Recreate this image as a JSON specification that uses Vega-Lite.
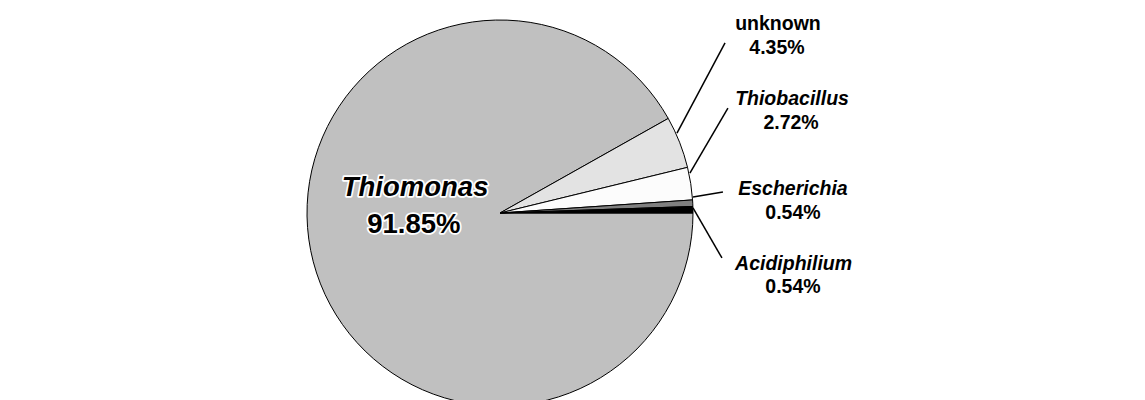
{
  "$schema": "https://vega.github.io/schema/vega-lite/v6.json",
  "width": 1145,
  "height": 400,
  "padding": 0,
  "autosize": {"type": "none"},
  "background": "white",
  "config": {"view": {"stroke": null}},
  "datasets": {
    "slices": [
      {"genus": "Thiomonas", "pct": 91.85, "ord": 1},
      {"genus": "unknown", "pct": 4.35, "ord": 2},
      {"genus": "Thiobacillus", "pct": 2.72, "ord": 3},
      {"genus": "Escherichia", "pct": 0.54, "ord": 4},
      {"genus": "Acidiphilium", "pct": 0.54, "ord": 5}
    ],
    "leaders": [
      {"genus": "unknown", "x1": 0.917, "y1": 0.414, "x2": 1.166, "y2": 0.881},
      {"genus": "Thiobacillus", "x1": 0.984, "y1": 0.207, "x2": 1.181, "y2": 0.544},
      {"genus": "Escherichia", "x1": 1.0, "y1": 0.083, "x2": 1.155, "y2": 0.109},
      {"genus": "Acidiphilium", "x1": 1.0, "y1": 0.026, "x2": 1.15, "y2": -0.233}
    ],
    "labels": [
      {"text": "unknown", "kind": "plain", "lx": 1.44, "ly": 0.948},
      {"text": "4.35%", "kind": "plain", "lx": 1.435, "ly": 0.824},
      {"text": "Thiobacillus", "kind": "italic", "lx": 1.513, "ly": 0.56},
      {"text": "2.72%", "kind": "plain", "lx": 1.508, "ly": 0.435},
      {"text": "Escherichia", "kind": "italic", "lx": 1.518, "ly": 0.093},
      {"text": "0.54%", "kind": "plain", "lx": 1.518, "ly": -0.031},
      {"text": "Acidiphilium", "kind": "italic", "lx": 1.521, "ly": -0.295},
      {"text": "0.54%", "kind": "plain", "lx": 1.518, "ly": -0.415}
    ],
    "inner": [
      {"text": "Thiomonas", "kind": "italic", "lx": -0.44, "ly": 0.088},
      {"text": "91.85%", "kind": "plain", "lx": -0.446, "ly": -0.104}
    ]
  },
  "layer": [
    {
      "data": {"name": "slices"},
      "mark": {"type": "arc", "outerRadius": 193, "stroke": "black", "strokeWidth": 1},
      "encoding": {
        "theta": {"field": "pct", "type": "quantitative", "stack": true, "scale": {"range": [1.5708, 7.854]}},
        "order": {"field": "ord", "type": "quantitative"},
        "x": {"datum": 0, "type": "quantitative", "scale": {"domain": [-2.5907, 3.342], "nice": false, "zero": false}, "axis": null},
        "y": {"datum": 0, "type": "quantitative", "scale": {"domain": [-0.9689, 1.1036], "nice": false, "zero": false}, "axis": null},
        "color": {
          "field": "genus", "type": "nominal", "legend": null,
          "scale": {"domain": ["Thiomonas", "unknown", "Thiobacillus", "Escherichia", "Acidiphilium"],
                    "range": ["#c0c0c0", "#e3e3e3", "#fcfcfc", "#808080", "#000000"]}
        }
      }
    },
    {
      "data": {"name": "leaders"},
      "mark": {"type": "rule", "stroke": "black", "strokeWidth": 1.5},
      "encoding": {
        "x": {"field": "x1", "type": "quantitative"},
        "y": {"field": "y1", "type": "quantitative"},
        "x2": {"field": "x2"},
        "y2": {"field": "y2"}
      }
    },
    {
      "data": {"name": "labels"},
      "transform": [{"filter": "datum.kind === 'plain'"}],
      "mark": {"type": "text", "font": "Liberation Sans", "fontSize": 19.5, "fontWeight": "bold", "align": "center", "baseline": "alphabetic", "color": "black"},
      "encoding": {
        "x": {"field": "lx", "type": "quantitative"},
        "y": {"field": "ly", "type": "quantitative"},
        "text": {"field": "text"}
      }
    },
    {
      "data": {"name": "labels"},
      "transform": [{"filter": "datum.kind === 'italic'"}],
      "mark": {"type": "text", "font": "Liberation Sans", "fontSize": 19.5, "fontWeight": "bold", "fontStyle": "italic", "align": "center", "baseline": "alphabetic", "color": "black"},
      "encoding": {
        "x": {"field": "lx", "type": "quantitative"},
        "y": {"field": "ly", "type": "quantitative"},
        "text": {"field": "text"}
      }
    },
    {
      "data": {"name": "inner"},
      "transform": [{"filter": "datum.kind === 'italic'"}],
      "mark": {"type": "text", "font": "Liberation Sans", "fontSize": 27.5, "fontWeight": "bold", "fontStyle": "italic", "align": "center", "baseline": "alphabetic", "fill": "black", "stroke": "white", "strokeWidth": 3.5, "strokeJoin": "round"},
      "encoding": {
        "x": {"field": "lx", "type": "quantitative"},
        "y": {"field": "ly", "type": "quantitative"},
        "text": {"field": "text"}
      }
    },
    {
      "data": {"name": "inner"},
      "transform": [{"filter": "datum.kind === 'plain'"}],
      "mark": {"type": "text", "font": "Liberation Sans", "fontSize": 27.5, "fontWeight": "bold", "align": "center", "baseline": "alphabetic", "fill": "black", "stroke": "white", "strokeWidth": 3.5, "strokeJoin": "round"},
      "encoding": {
        "x": {"field": "lx", "type": "quantitative"},
        "y": {"field": "ly", "type": "quantitative"},
        "text": {"field": "text"}
      }
    },
    {
      "data": {"name": "inner"},
      "transform": [{"filter": "datum.kind === 'italic'"}],
      "mark": {"type": "text", "font": "Liberation Sans", "fontSize": 27.5, "fontWeight": "bold", "fontStyle": "italic", "align": "center", "baseline": "alphabetic", "color": "black"},
      "encoding": {
        "x": {"field": "lx", "type": "quantitative"},
        "y": {"field": "ly", "type": "quantitative"},
        "text": {"field": "text"}
      }
    },
    {
      "data": {"name": "inner"},
      "transform": [{"filter": "datum.kind === 'plain'"}],
      "mark": {"type": "text", "font": "Liberation Sans", "fontSize": 27.5, "fontWeight": "bold", "align": "center", "baseline": "alphabetic", "color": "black"},
      "encoding": {
        "x": {"field": "lx", "type": "quantitative"},
        "y": {"field": "ly", "type": "quantitative"},
        "text": {"field": "text"}
      }
    }
  ]
}
